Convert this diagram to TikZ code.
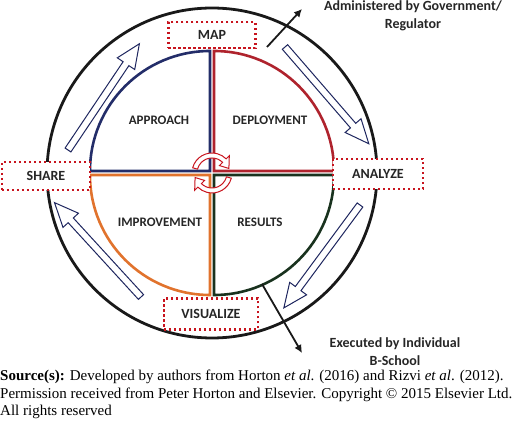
\documentclass[tikz,border=0pt]{standalone}
\usepackage{fontspec}
\setmainfont{Liberation Serif}
\newfontfamily\labelfont{Carlito}
\usetikzlibrary{arrows.meta}
\definecolor{navy}{RGB}{30,38,95}
\definecolor{qblue}{RGB}{35,45,105}
\definecolor{qred}{RGB}{175,35,45}
\definecolor{qorange}{RGB}{225,115,45}
\definecolor{qgreen}{RGB}{25,50,30}
\definecolor{dotred}{RGB}{200,20,30}
\tikzset{
  quad/.style    = {line width=2.6pt, line join=miter},
  phase/.style   = {font=\labelfont\bfseries\fontsize{13}{15}\selectfont, text=black!85},
  stage/.style   = {phase, font=\labelfont\bfseries\fontsize{14}{16}\selectfont,
                    draw=dotred, line width=2.4pt,
                    dash pattern=on 2.4pt off 2.6pt, fill=white},
  turn/.style    = {draw=dotred, line width=1pt, fill=white},
  ctrl/.style    = {draw=black!90, line width=1.8pt, -{Latex[length=8pt,width=8pt]}},
  note/.style    = {phase, font=\labelfont\bfseries\fontsize{14}{18}\selectfont, align=center},
  src/.style     = {anchor=west, inner sep=0pt, font=\fontsize{15}{17}\selectfont},
  flow/.pic      = {\draw[navy, line width=1pt, fill=white, line join=miter]
                    (0,-3.5) -- (104,-3.5) -- (104,-10.5) -- (128,0)
                    -- (104,10.5) -- (104,3.5) -- (0,3.5) -- cycle;}
}
\begin{document}
\begin{tikzpicture}[x=1pt,y=1pt]
  \useasboundingbox (-212,-265) rectangle (308,173);

  \draw[black!90, line width=2.8pt] (0,0) circle[radius=165];

  \draw[quad, qblue]   (-2,2)  -- ++(-120,0) arc[start angle=180,end angle=90,radius=120] -- cycle;
  \draw[quad, qred]    (2,2)   -- ++(0,120)  arc[start angle=90,end angle=0,radius=120] -- cycle;
  \draw[quad, qorange] (-2,-2) -- ++(0,-120) arc[start angle=270,end angle=180,radius=120] -- cycle;
  \draw[quad, qgreen]  (2,-2)  -- ++(120,0)  arc[start angle=0,end angle=-90,radius=120] -- cycle;

  \node[phase] (approach)    at (-53,53)  {APPROACH};
  \node[phase] (deployment)  at (58,53)   {DEPLOYMENT};
  \node[phase] (improvement) at (-52,-49) {IMPROVEMENT};
  \node[phase] (results)     at (48,-49)  {RESULTS};

  \foreach \r in {0,180}
    \draw[turn, rotate=\r] (165:20) arc[start angle=165,end angle=45,radius=20]
      -- (45:24.5) -- (15:17.5) -- (45:10.5) -- (45:15)
      arc[start angle=45,end angle=165,radius=15] -- cycle;

  \pic[rotate=56.1]  at (-144,23)  {flow};
  \pic[rotate=-49.1] at (73,126)   {flow};
  \pic[rotate=233.5] at (148,-32)  {flow};
  \pic[rotate=132.5] at (-71,-124) {flow};

  \node[stage, minimum width=87pt, minimum height=26pt] (map)       at (0,138)   {MAP};
  \node[stage, minimum width=88pt, minimum height=28pt] (share)     at (-166,-3) {SHARE};
  \node[stage, minimum width=90pt, minimum height=30pt] (analyze)   at (166,-1)  {ANALYZE};
  \node[stage, minimum width=94pt, minimum height=31pt] (visualize) at (-1,-141) {VISUALIZE};

  \coordinate (govfoot)    at (55,126);
  \coordinate (govtip)     at (90,164);
  \coordinate (schoolfoot) at (50,-111);
  \coordinate (schooltip)  at (90,-180);
  \draw[ctrl] (govfoot) -- (govtip);
  \draw[ctrl] (schoolfoot) -- (schooltip);

  \node[note] (gov)    at (201,157)  {Administered by Government/\\Regulator};
  \node[note] (school) at (183,-179) {Executed by Individual\\B-School};

  \node[src] (src1) at (-212,-204) {\textbf{Source(s):} Developed by authors from Horton \textit{et al}. (2016) and Rizvi \textit{et al}. (2012).};
  \node[src] (src2) at (-212,-222) {Permission received from Peter Horton and Elsevier. Copyright \textcopyright{} 2015 Elsevier Ltd.};
  \node[src] (src3) at (-212,-239) {All rights reserved};
\end{tikzpicture}
\end{document}
